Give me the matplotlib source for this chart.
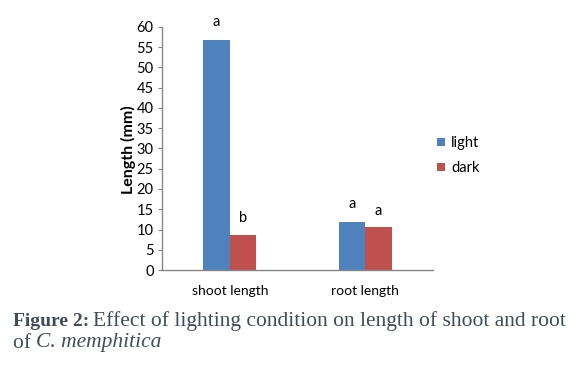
import matplotlib
matplotlib.use("Agg")
import matplotlib.pyplot as plt
import numpy as np

categories = ["shoot length", "root length"]
light = [56.8, 11.9]
dark = [8.7, 10.5]
light_letters = ["a", "a"]
dark_letters = ["b", "a"]
yticks = list(range(0, 61, 5))

W, H = 584, 365
fig = plt.figure(figsize=(W / 100, H / 100), dpi=100)
ax = fig.add_axes([162 / W, 1 - 270 / H, (433 - 162) / W, (270 - 27) / H])

x = np.arange(len(categories))
bw = 0.195
b1 = ax.bar(x - bw / 2, light, bw, color="#4F81BD", label="light")
b2 = ax.bar(x + bw / 2, dark, bw, color="#C0504D", label="dark")

font = "Lato"
for xi, v, t in zip(x - bw / 2, light, light_letters):
    ax.text(xi, v + 2.6, t, ha="center", va="bottom", fontsize=10.5, family=font, clip_on=False)
for xi, v, t in zip(x + bw / 2, dark, dark_letters):
    ax.text(xi, v + 2.4, t, ha="center", va="bottom", fontsize=10.5, family=font, clip_on=False)

ax.set_xlim(-0.5, 1.5)
ax.set_ylim(0, 60)
ax.set_yticks(yticks)
ax.set_xticks(x)
ax.set_xticklabels(categories, family=font, fontsize=10)
for lab in ax.get_yticklabels():
    lab.set_family(font)
    lab.set_fontsize(10.5)
ax.tick_params(axis="x", length=0, pad=11)
ax.tick_params(axis="y", length=3, color="#868686", pad=3, direction="out")
for s in ["top", "right"]:
    ax.spines[s].set_visible(False)
for s in ["left", "bottom"]:
    ax.spines[s].set_color("#868686")
    ax.spines[s].set_linewidth(1)

fig.text(128 / W, 1 - 150 / H, "Length (mm)", rotation=90, ha="center", va="center",
         fontsize=11.5, fontweight="bold", family=font)

leg = fig.legend(handles=[b1, b2], labels=["light", "dark"], loc="upper left",
                 bbox_to_anchor=(424 / W, 1 - 123 / H), frameon=False,
                 prop={"family": font, "size": 10.5}, handlelength=0.55, handleheight=0.55,
                 handletextpad=0.4, labelspacing=0.75)

cap_color = "#414c5a"
serif = "Liberation Serif"
t1 = fig.text(13 / W, 1 - 321 / H, "Figure 2:", fontsize=14, color=cap_color,
              va="center", ha="left", fontweight="bold", family=serif)
fig.canvas.draw()
bb = t1.get_window_extent()
fig.text((bb.x1 + 4) / W, 1 - 321 / H, "Effect of lighting condition on length of shoot and root",
         fontsize=15.5, color=cap_color, va="center", ha="left", family=serif)
t2 = fig.text(13 / W, 1 - 343 / H, "of ", fontsize=15.5, color=cap_color,
              va="center", ha="left", family=serif)
fig.canvas.draw()
bb2 = t2.get_window_extent()
fig.text(bb2.x1 / W, 1 - 343 / H, "C. memphitica", fontsize=15.5, color=cap_color,
         va="center", ha="left", family=serif, style="italic")

fig.savefig("out.png", dpi=100)
